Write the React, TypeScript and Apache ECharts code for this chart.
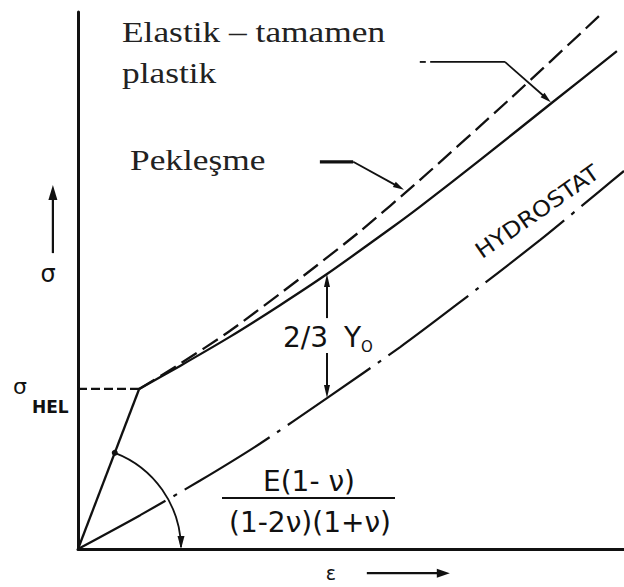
import React, { useEffect, useRef } from "react";
import * as echarts from "echarts";

// ---- data (strain ε and stress σ in arbitrary units, 0–100) ----
const elasticStrain = [0, 11.2];
const elasticStress = [0, 29.8];
const sigmaHEL = 29.8;

const idealPlasticStrain = [11.2, 18.7, 27.8, 37.0, 45.6, 57.7, 62.6, 73.6, 86.8, 98.7];
const idealPlasticStress = [29.8, 34.1, 39.5, 45.4, 51.2, 60.0, 63.7, 72.4, 83.1, 92.7];

const hardeningStrain = [11.2, 18.7, 27.8, 40.7, 51.7, 62.6, 79.1, 95.6];
const hardeningStress = [29.8, 34.5, 40.6, 50.4, 59.2, 68.7, 83.8, 99.4];

const hydrostatStrain = [0, 11.4, 22.3, 33.3, 45.6, 59.0, 69.1, 84.6, 95.6, 100];
const hydrostatStress = [0, 6.3, 12.7, 19.6, 28.1, 37.6, 45.3, 57.5, 66.7, 70.4];

// annotation anchors (data units)
const yieldGapStrain = 45.6; // where 2/3 Y0 is measured
const leaderPlastic = [[62.6, 90.7], [63.7, 90.7], [64.5, 90.7], [78.2, 90.7], [86.6, 83.2]];
const leaderHardening = [[44.3, 72.1], [50.4, 72.1], [59.7, 66.9]];

const zip = (a: number[], b: number[]) => a.map((v, i) => [v, b[i]]);

const INK = "#111";

export default function App() {
  const ref = useRef<HTMLDivElement>(null);
  useEffect(() => {
    if (!ref.current) return;
    const chart = echarts.init(ref.current, undefined, { renderer: "svg" });
    const base: any = {
      animation: false,
      backgroundColor: "#fff",
      grid: { left: 78, right: 0, top: 12, bottom: 38 },
      xAxis: {
        type: "value", min: 0, max: 100,
        axisLine: { show: true, onZero: false, lineStyle: { color: INK, width: 3 } },
        axisTick: { show: false }, axisLabel: { show: false }, splitLine: { show: false },
      },
      yAxis: {
        type: "value", min: 0, max: 100,
        axisLine: { show: true, onZero: false, lineStyle: { color: INK, width: 3 } },
        axisTick: { show: false }, axisLabel: { show: false }, splitLine: { show: false },
      },
      series: [
        {
          type: "line", data: zip(elasticStrain, elasticStress), showSymbol: false,
          lineStyle: { color: INK, width: 2.3 },
        },
        {
          type: "line", data: [[0, sigmaHEL], [elasticStrain[1], sigmaHEL]], showSymbol: false,
          lineStyle: { color: INK, width: 2.2, type: [9, 4] },
        },
        {
          type: "line", data: zip(idealPlasticStrain, idealPlasticStress), showSymbol: false,
          smooth: 0.25,
          lineStyle: { color: INK, width: 2.3, join: "round" },
        },
        {
          type: "line", data: zip(hardeningStrain, hardeningStress), showSymbol: false,
          smooth: 0.25,
          lineStyle: { color: INK, width: 2.3, type: [18, 7] },
        },
        {
          type: "line", data: zip(hydrostatStrain, hydrostatStress), showSymbol: false,
          smooth: 0.25,
          lineStyle: { color: INK, width: 2.2, type: [100, 9, 4, 9] },
        },
      ],
    };
    chart.setOption(base);

    const P = (p: number[]) => chart.convertToPixel({ gridIndex: 0 }, p) as number[];

    const arrow = (a: number[], b: number[], hl: number, hw: number, lw: number) => {
      const [x1, y1] = a;
      const [x2, y2] = b;
      const dx = x2 - x1, dy = y2 - y1;
      const L = Math.hypot(dx, dy);
      const ux = dx / L, uy = dy / L;
      const bx = x2 - ux * hl, by = y2 - uy * hl;
      return [
        { type: "line", shape: { x1, y1, x2: bx + ux * 2, y2: by + uy * 2 }, style: { stroke: INK, lineWidth: lw }, z: 50 },
        {
          type: "polygon",
          shape: { points: [[x2, y2], [bx - (uy * hw) / 2, by + (ux * hw) / 2], [bx + (uy * hw) / 2, by - (ux * hw) / 2]] },
          style: { fill: INK }, z: 50,
        },
      ];
    };
    const seg = (a: number[], b: number[], lw: number) => ({
      type: "line", shape: { x1: a[0], y1: a[1], x2: b[0], y2: b[1] }, style: { stroke: INK, lineWidth: lw }, z: 50,
    });

    const g: any[] = [];
    // 2/3 Y0 double arrow (gap for text)
    const topY = idealPlasticStress[4];
    const botY = hydrostatStress[4];
    g.push(...arrow(P([yieldGapStrain, 43.0]), P([yieldGapStrain, topY]), 13, 6, 2));
    g.push(...arrow(P([yieldGapStrain, 36.5]), P([yieldGapStrain, botY]), 13, 6, 2));

    // leaders
    const lp = leaderPlastic.map(P);
    g.push(seg(lp[0], lp[1], 1.8));
    g.push(seg(lp[2], lp[3], 1.8));
    g.push(...arrow(lp[3], lp[4], 11, 6, 1.8));
    const lh = leaderHardening.map(P);
    g.push(seg(lh[0], lh[1], 3.2));
    g.push(...arrow(lh[1], lh[2], 11, 6, 1.8));

    // axis direction arrows
    g.push(...arrow(P([-4.6, 55.1]), P([-4.6, 67.8]), 15, 9, 2.2));
    g.push(...arrow(P([52.9, -4.5]), P([68.1, -4.5]), 13, 9, 2.2));

    // angle arc (elastic slope)
    const o = P([0, 0]);
    const k = P([elasticStrain[1], elasticStress[1]]);
    const ang = Math.atan2(k[1] - o[1], k[0] - o[0]);
    const r = 103;
    g.push({
      type: "arc", shape: { cx: o[0], cy: o[1], r, startAngle: ang, endAngle: -0.02, clockwise: true },
      style: { stroke: INK, lineWidth: 1.8, fill: "none" }, z: 50,
    });
    g.push({
      type: "polygon",
      shape: { points: [[o[0] + r, o[1]], [o[0] + r - 3.5, o[1] - 13], [o[0] + r + 3.5, o[1] - 13]] },
      style: { fill: INK }, z: 50,
    });
    g.push({
      type: "circle", shape: { cx: o[0] + r * Math.cos(ang), cy: o[1] + r * Math.sin(ang), r: 3 },
      style: { fill: INK }, z: 50,
    });

    // texts
    const serif = "'Liberation Serif', 'Times New Roman', serif";
    const sans = "'DejaVu Sans', sans-serif";
    const txt = (text: string, x: number, y: number, size: number, extra: any = {}, style: any = {}) => ({
      type: "text", x, y, z: 60, ...extra,
      style: { text, fontSize: size, fontFamily: sans, fill: INK, align: "left", verticalAlign: "middle", ...style },
    });
    g.push(txt("Elastik – tamamen", 122, 32, 29, { scaleX: 1.22 }, { fontFamily: serif, fill: "#222" }));
    g.push(txt("plastik", 122, 73, 29, { scaleX: 1.22 }, { fontFamily: serif, fill: "#222" }));
    g.push(txt("Pekleşme", 130, 160, 29, { scaleX: 1.22 }, { fontFamily: serif, fill: "#222" }));

    g.push(txt("σ", 20, 386, 22, {}, { align: "center" }));
    g.push(txt("HEL", 32, 407, 17, {}, { fontWeight: "bold" }));
    g.push(txt("σ", 48, 274, 24, {}, { align: "center" }));
    g.push(txt("ε", 331, 573, 19, {}, { align: "center" }));

    g.push(txt("2/3", 328, 337, 28, {}, { align: "right" }));
    g.push(txt("Y", 344, 337, 28));
    g.push(txt("O", 361, 347, 15));

    g.push(txt("E(1- ν)", 309, 481, 28, {}, { align: "center" }));
    g.push({ type: "line", shape: { x1: 222, y1: 498, x2: 395, y2: 498 }, style: { stroke: INK, lineWidth: 2 }, z: 50 });
    g.push(txt("(1-2ν)(1+ν)", 310, 522, 28, {}, { align: "center" }));

    g.push(txt("HYDROSTAT", 484, 262, 22, { rotation: (34.8 * Math.PI) / 180, scaleX: 1.1 }, { verticalAlign: "bottom" }));

    chart.setOption({ graphic: { elements: g } });

    return () => chart.dispose();
  }, []);
  return (
    <div
      ref={ref}
      style={{ position: "fixed", left: 0, top: 0, width: 624, height: 587, background: "#fff" }}
    />
  );
}
